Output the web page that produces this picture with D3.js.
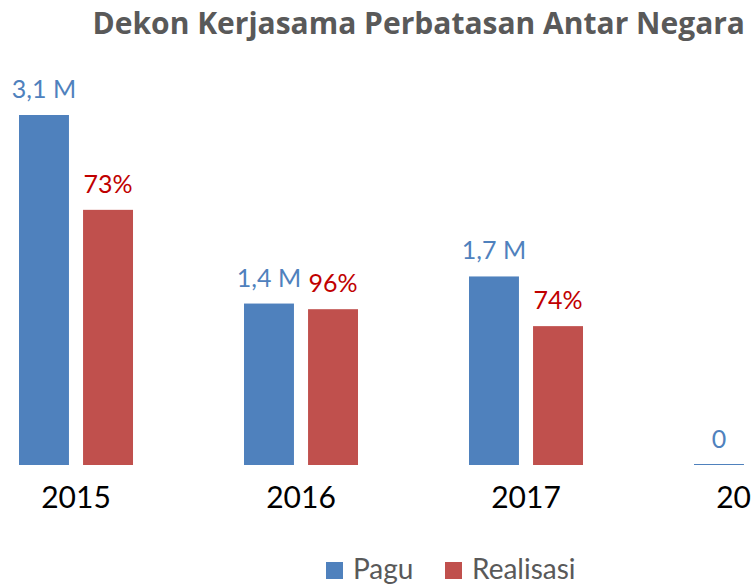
<!DOCTYPE html>
<html>
<head>
<meta charset="utf-8">
<script src="https://cdn.jsdelivr.net/npm/d3@7"></script>
<style>
  body { margin: 0; background: #fff; }
  svg { display: block; font-family: Lato, "Open Sans", sans-serif; }
</style>
</head>
<body>
<div id="chart"></div>
<script>
const years = ["2015", "2016", "2017", "2018"];
const series = ["Pagu", "Realisasi"];
const pagu = [3.1, 1.43, 1.67, 0];
const realisasi = [2.26, 1.38, 1.23, 0];
const paguLabels = ["3,1 M", "1,4 M", "1,7 M", "0"];
const realisasiLabels = ["73%", "96%", "74%", ""];

const colors = { Pagu: "#4f81bd", Realisasi: "#c0504d" };
const labelColors = { Pagu: "#4f81bd", Realisasi: "#c00000" };

drawChart();

function drawChart() {
    const svg = d3.select("#chart").append("svg")
        .attr("width", 751)
        .attr("height", 584);

    // title
    svg.append("text")
        .attr("x", 745)
        .attr("y", 34)
        .attr("text-anchor", "end")
        .attr("font-family", "'Open Sans', sans-serif")
        .attr("font-size", 30)
        .attr("font-weight", "bold")
        .attr("fill", "#595959")
        .text("Dekon Kerjasama Perbatasan Antar Negara");

    const x = d3.scaleBand().domain(years).range([19, 808]).paddingInner(0.4933).paddingOuter(0);
    const xs = d3.scaleBand().domain(series).range([0, x.bandwidth()]).paddingInner(0.22);
    const y = d3.scaleLinear().domain([0, 3.1]).range([465, 115]);

    const rows = years.map((yr, i) => ({
        year: yr,
        vals: [
            { key: "Pagu", v: pagu[i], label: paguLabels[i] },
            { key: "Realisasi", v: realisasi[i], label: realisasiLabels[i] }
        ]
    }));

    const groups = svg.selectAll(".grp")
        .data(rows)
        .enter().append("g")
        .attr("class", "grp")
        .attr("transform", d => `translate(${x(d.year)},0)`);

    groups.selectAll("rect")
        .data(d => d.vals)
        .enter().append("rect")
        .attr("x", d => xs(d.key))
        .attr("width", xs.bandwidth())
        .attr("y", d => Math.min(y(d.v), y(0) - 1))
        .attr("height", d => Math.max(1, y(0) - y(d.v)))
        .attr("fill", d => colors[d.key]);

    groups.selectAll("text")
        .data(d => d.vals.filter(v => v.label !== ""))
        .enter().append("text")
        .attr("x", d => xs(d.key) + xs.bandwidth() / 2)
        .attr("y", d => y(d.v) - 17)
        .attr("text-anchor", "middle")
        .attr("font-size", 25)
        .attr("fill", d => labelColors[d.key])
        .text(d => d.label);

    // x axis (labels only)
    const axis = svg.append("g")
        .attr("transform", `translate(0,${y(0)})`)
        .call(d3.axisBottom(x).tickSize(0).tickPadding(0));
    axis.select(".domain").remove();
    axis.selectAll("text")
        .attr("dy", null)
        .attr("y", 43)
        .attr("font-family", "Lato, sans-serif")
        .attr("font-size", 30)
        .attr("fill", "#000");

    // legend
    const legend = svg.append("g").attr("transform", "translate(326,562)");
    const lx = [0, 119];
    series.forEach((s, i) => {
        const g = legend.append("g").attr("transform", `translate(${lx[i]},0)`);
        g.append("rect").attr("width", 17).attr("height", 17).attr("fill", colors[s]);
        g.append("text")
            .attr("x", 27)
            .attr("y", 17)
            .attr("font-size", 28)
            .attr("fill", "#595959")
            .text(s);
    });
}
</script>
</body>
</html>
